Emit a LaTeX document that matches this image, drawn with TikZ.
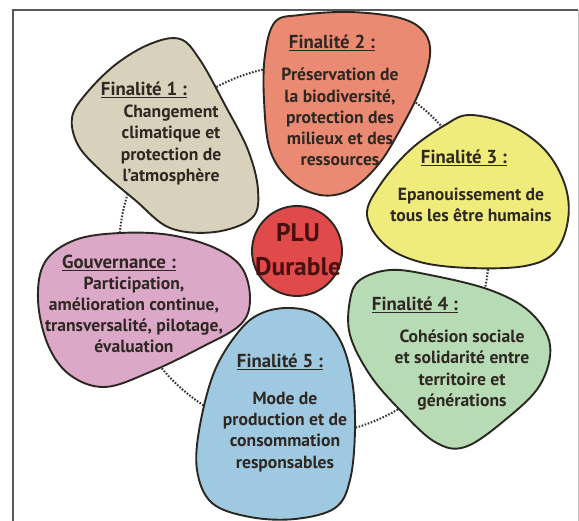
\documentclass[tikz,border=0pt]{standalone}
\usepackage{fontspec}
\setmainfont{PT Sans}
\definecolor{outl}{HTML}{2A2620}
\definecolor{txt}{HTML}{2E2722}
\definecolor{cF1}{HTML}{D8D2BC}
\definecolor{cF2}{HTML}{EB8A72}
\definecolor{cF3}{HTML}{EFEC7C}
\definecolor{cF4}{HTML}{B7DCB5}
\definecolor{cF5}{HTML}{9EC9E0}
\definecolor{cGov}{HTML}{DBA8C8}
\definecolor{cPLU}{HTML}{E04A4A}
\definecolor{txtPLU}{HTML}{4A1010}
\begin{document}
\begin{tikzpicture}[x=1pt,y=-1pt,
  blob/.style={draw=outl, line width=1.9pt, line join=round},
  ttl/.style={font=\fontsize{18.8}{21}\selectfont\bfseries, text=txt, inner sep=0pt},
  bodytxt/.style={font=\fontsize{17.6}{21.2}\selectfont\bfseries, text=txt, align=center, inner sep=0pt},
  ring/.style={draw=black!80, line width=2pt, dash pattern=on 1.6pt off 1.6pt}
]
\useasboundingbox (0,0) rectangle (579,521);
\fill[white] (0,0) rectangle (579,521);
% frame
\draw[line width=2pt, draw=black!65] (13,521) -- (13,10) -- (578,10);
\draw[line width=1pt, draw=black!25] (578,10) -- (578,521);
% dotted ring
\draw[ring] (304,250) circle[radius=185];
% blobs
\draw[blob, fill=cF1] plot[smooth cycle, tension=0.6] coordinates {
  (180,39) (150,44) (115,65) (85,95) (72,118) (78,145) (100,170) (135,200)
  (170,228) (215,232) (252,218) (258,190) (248,150) (225,105) (200,60)};
\draw[blob, fill=cF2] plot[smooth cycle, tension=0.6] coordinates {
  (275,22) (300,15) (350,12) (400,18) (424,32) (430,55) (420,90) (400,130)
  (378,165) (350,190) (320,195) (290,180) (270,150) (264,100) (265,55)};
\draw[blob, fill=cF3] plot[smooth cycle, tension=0.6] coordinates {
  (367,215) (380,185) (410,150) (445,125) (470,115) (510,125) (545,150)
  (565,185) (568,220) (555,252) (525,266) (470,268) (420,262) (385,245)};
\draw[blob, fill=cF4] plot[smooth cycle, tension=0.6] coordinates {
  (350,300) (360,280) (390,270) (430,275) (490,290) (530,312) (550,345)
  (540,385) (505,420) (465,447) (435,442) (400,410) (370,375) (350,335)};
\draw[blob, fill=cF5] plot[smooth cycle, tension=0.6] coordinates {
  (290,308) (318,315) (340,340) (352,380) (355,430) (350,480) (335,508)
  (295,519) (250,517) (212,503) (197,470) (200,425) (215,370) (240,330) (262,313)};
\draw[blob, fill=cGov] plot[smooth cycle, tension=0.6] coordinates {
  (120,233) (170,235) (215,248) (242,268) (250,300) (240,325) (200,348)
  (150,372) (105,387) (70,375) (48,345) (38,300) (45,262) (75,240)};
\node[blob, fill=cPLU, circle, minimum size=90pt, inner sep=0pt] (plu) at (297,251) {};
% texts
\node[font=\fontsize{25.5}{34}\selectfont\bfseries, text=txtPLU, align=center, inner sep=0pt] (plutxt) at (298,250) {PLU\\Durable};

\node[ttl] (t1) at (144,90) {\underline{Finalité 1 :}};
\node[bodytxt] (b1) at (171,145) {Changement\\climatique et\\protection de\\l’atmosphère};

\node[ttl] (t2) at (332,43) {\underline{Finalité 2 :}};
\node[bodytxt] (b2) at (340,117) {Préservation de\\la biodiversité,\\protection des\\milieux et des\\ressources};

\node[ttl] (t3) at (464,158) {\underline{Finalité 3 :}};
\node[bodytxt] (b3) at (471,205) {Epanouissement de\\tous les être humains};

\node[ttl] (t4) at (415,305) {\underline{Finalité 4 :}};
\node[bodytxt] (b4) at (462,370) {Cohésion sociale\\et solidarité entre\\territoire et\\générations};

\node[ttl] (t5) at (280,362) {\underline{Finalité 5 :}};
\node[bodytxt] (b5) at (285,432) {Mode de\\production et de\\consommation\\responsables};

\node[ttl] (tg) at (119,263) {\underline{Gouvernance :}};
\node[bodytxt] (bg) at (134,315) {Participation,\\amélioration continue,\\transversalité, pilotage,\\évaluation};
\end{tikzpicture}
\end{document}
